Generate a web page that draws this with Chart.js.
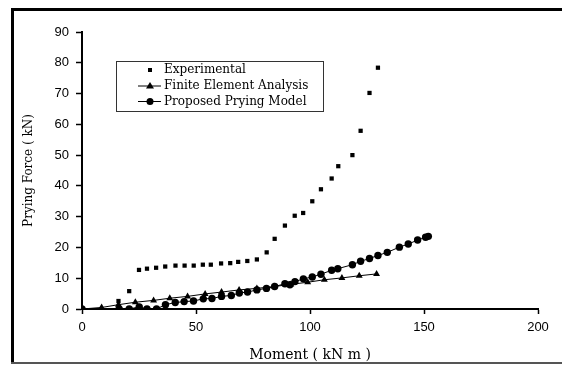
<!DOCTYPE html>
<html>
<head>
<meta charset="utf-8">
<script src="https://cdn.jsdelivr.net/npm/chart.js@4"></script>
<style>
  html, body { margin: 0; padding: 0; background: #fff; overflow: hidden; }
  #wrap { width: 562px; height: 365px; }
</style>
</head>
<body>
<div id="wrap"><canvas id="prying"></canvas></div>
<script>
// Experimental
const momentExp = [16, 20.7, 25, 28.5, 32.5, 36.5, 41, 45, 49, 53, 56.5, 61, 65, 68.5, 72.5, 76.7, 81, 84.5, 89, 93.3, 97, 101, 104.8, 109.5, 112.4, 118.6, 122.2, 126.1, 129.8];
const forceExp = [2.6, 5.8, 12.7, 13.1, 13.4, 13.8, 14.1, 14.1, 14.1, 14.4, 14.4, 14.8, 14.9, 15.3, 15.6, 16.1, 18.4, 22.8, 27.1, 30.3, 31.2, 35, 38.9, 42.4, 46.4, 50, 57.9, 70.2, 78.4];

// Finite Element Analysis
const momentFea = [0, 8.6, 16, 23.4, 31.4, 38.5, 46.3, 54, 61.2, 68.9, 76.7, 84.2, 91.6, 99, 106.3, 114, 121.6, 129.2];
const forceFea = [0, 0.5, 1.4, 2.2, 2.8, 3.5, 4.1, 4.9, 5.5, 6.2, 6.7, 7.3, 8.0, 8.7, 9.5, 10.1, 10.8, 11.4];

// Proposed Prying Model
const momentModel = [0, 16.3, 20.7, 25.1, 28.5, 32.7, 36.6, 40.9, 44.8, 48.9, 53.2, 57, 61.2, 65.5, 69, 72.6, 76.7, 80.9, 84.5, 89, 91.2, 93.4, 97.1, 101, 104.8, 109.5, 112.2, 118.6, 122.2, 126.1, 129.8, 133.9, 139.2, 143.1, 147.2, 150.7, 151.9];
const forceModel = [0, 0, 0, 0.7, 0, 0, 1.4, 2.1, 2.4, 2.6, 3.3, 3.4, 4.1, 4.4, 5.2, 5.5, 6.2, 6.7, 7.3, 8.2, 7.9, 8.9, 9.8, 10.4, 11.3, 12.6, 13.1, 14.4, 15.5, 16.4, 17.4, 18.4, 20.1, 21.1, 22.4, 23.3, 23.6];

const seriesLabels = ["Experimental", "Finite Element Analysis", "Proposed Prying Model"];

function toPoints(xs, ys) {
  return xs.map((x, i) => ({ x: x, y: ys[i] }));
}

const serif = "'DejaVu Serif', 'Liberation Serif', serif";
const sans = "'Liberation Sans', Arial, sans-serif";

// white page with the thick frame lines of the original figure
const framePlugin = {
  id: "frame",
  beforeDraw(chart) {
    const ctx = chart.ctx;
    ctx.save();
    ctx.fillStyle = "#fff";
    ctx.fillRect(0, 0, chart.width, chart.height);
    ctx.fillStyle = "#000";
    ctx.fillRect(12, 8, chart.width - 12, 3);
    ctx.fillRect(11, 8, 3, 356);
    ctx.fillStyle = "#555";
    ctx.fillRect(11, 362, chart.width - 11, 2);
    ctx.restore();
  },
};

// legend box inside the plot, like the original
const legendPlugin = {
  id: "boxLegend",
  afterDatasetsDraw(chart) {
    const ctx = chart.ctx;
    const left = 116, top = 61, right = 323, bottom = 111;
    ctx.save();
    ctx.fillStyle = "#fff";
    ctx.fillRect(left, top, right - left, bottom - top);
    ctx.strokeStyle = "#333";
    ctx.lineWidth = 1;
    ctx.strokeRect(left + 0.5, top + 0.5, right - left, bottom - top);
    const rows = [70, 86, 101.5];
    chart.data.datasets.forEach((ds, i) => {
      const y = rows[i];
      const mx = 150;
      ctx.fillStyle = "#000";
      ctx.strokeStyle = "#000";
      if (ds.showLine !== false) {
        ctx.beginPath();
        ctx.moveTo(138, y);
        ctx.lineTo(161, y);
        ctx.stroke();
      }
      ctx.beginPath();
      if (ds.pointStyle === "rect") {
        ctx.fillRect(mx - 2, y - 2, 4, 4);
      } else if (ds.pointStyle === "triangle") {
        ctx.moveTo(mx, y - 4);
        ctx.lineTo(mx + 4, y + 2.5);
        ctx.lineTo(mx - 4, y + 2.5);
        ctx.closePath();
        ctx.fill();
      } else {
        ctx.arc(mx, y, 3.5, 0, Math.PI * 2);
        ctx.fill();
      }
      ctx.font = "12px " + serif;
      ctx.textBaseline = "middle";
      ctx.textAlign = "left";
      ctx.fillText(ds.label, 164, y);
    });
    ctx.restore();
  },
};

const config = {
  type: "scatter",
  data: {
    datasets: [
      {
        label: seriesLabels[0],
        data: toPoints(momentExp, forceExp),
        showLine: false,
        pointStyle: "rect",
        pointRadius: 3,
        backgroundColor: "#000",
        borderColor: "#000",
        borderWidth: 0,
      },
      {
        label: seriesLabels[1],
        data: toPoints(momentFea, forceFea),
        showLine: true,
        pointStyle: "triangle",
        pointRadius: 4,
        backgroundColor: "#000",
        borderColor: "#000",
        borderWidth: 1,
        pointBorderWidth: 0,
      },
      {
        label: seriesLabels[2],
        data: toPoints(momentModel, forceModel),
        showLine: true,
        pointStyle: "circle",
        pointRadius: 3.7,
        backgroundColor: "#000",
        borderColor: "#000",
        borderWidth: 1,
        pointBorderWidth: 0,
      },
    ],
  },
  options: {
    responsive: true,
    maintainAspectRatio: false,
    animation: false,
    layout: {
      padding: { left: 0, right: 24, top: 32, bottom: 0 },
    },
    plugins: {
      legend: { display: false },
      tooltip: { enabled: false },
    },
    scales: {
      x: {
        type: "linear",
        min: 0,
        max: 200,
        ticks: {
          stepSize: 50,
          color: "#000",
          padding: 6,
          font: { family: sans, size: 13 },
        },
        grid: {
          drawOnChartArea: false,
          color: "#000",
          tickLength: 5,
          tickWidth: 1.5,
        },
        border: { color: "#000", width: 2 },
        title: {
          display: true,
          text: "Moment ( kN m )",
          color: "#000",
          font: { family: serif, size: 14 },
          padding: { top: 0, bottom: 1 },
        },
        afterFit(scale) {
          scale.height = 56;
        },
      },
      y: {
        type: "linear",
        min: 0,
        max: 90,
        ticks: {
          stepSize: 10,
          color: "#000",
          padding: 7,
          font: { family: sans, size: 13 },
        },
        grid: {
          drawOnChartArea: false,
          color: "#000",
          tickLength: 6,
          tickWidth: 1.5,
        },
        border: { color: "#000", width: 2 },
        title: {
          display: true,
          text: "Prying Force ( kN)",
          color: "#000",
          font: { family: serif, size: 12 },
          padding: { top: 22, bottom: 0 },
        },
        afterFit(scale) {
          scale.width = 82;
        },
      },
    },
  },
  plugins: [framePlugin, legendPlugin],
};

new Chart(document.getElementById("prying"), config);
</script>
</body>
</html>
